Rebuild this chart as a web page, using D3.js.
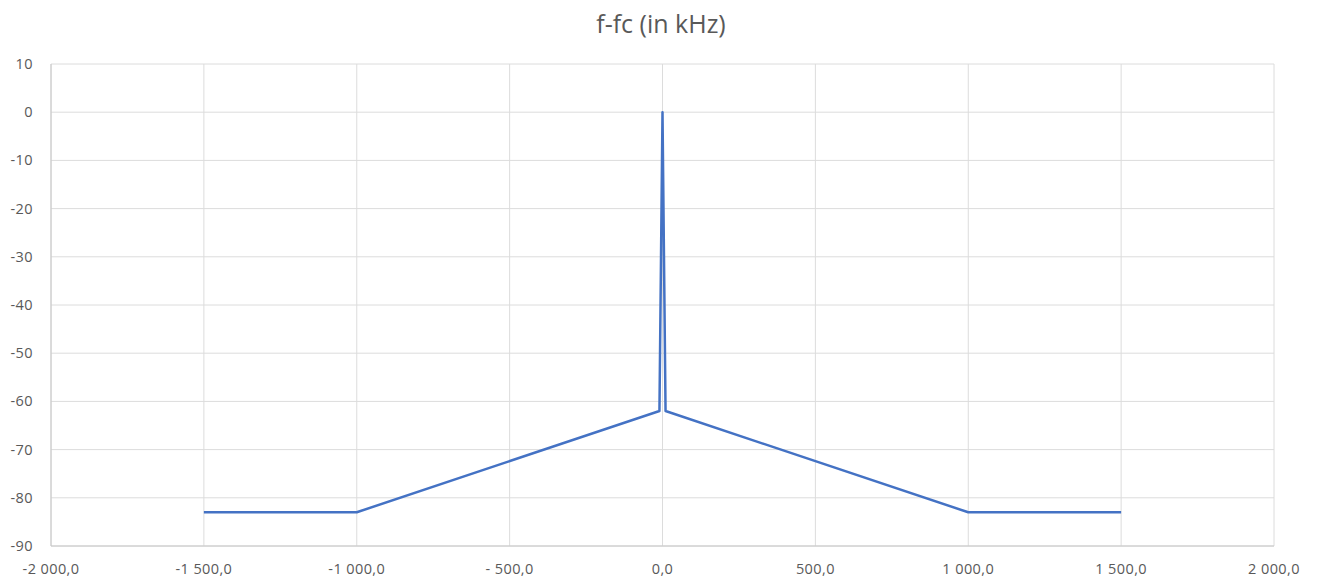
<!DOCTYPE html>
<html><head><meta charset="utf-8">
<script src="https://cdn.jsdelivr.net/npm/d3@7"></script>
<style>body{margin:0;background:#fff;}svg{display:block;}</style>
</head><body><svg id="c" width="1318" height="583"></svg>
<script>
const freq = [-1500, -1000, -10, 0, 10, 1000, 1500];
const level = [-83, -83, -62, 0, -62, -83, -83];
const xTicks = [-2000, -1500, -1000, -500, 0, 500, 1000, 1500, 2000];
const xTickLabels = ["-2 000,0", "-1 500,0", "-1 000,0", "- 500,0", "0,0", "500,0", "1 000,0", "1 500,0", "2 000,0"];
const yTicks = [10, 0, -10, -20, -30, -40, -50, -60, -70, -80, -90];
const title = "f-fc (in kHz)";

const svg = d3.select("#c");
const x = d3.scaleLinear().domain([-2000, 2000]).range([51, 1274]);
const y = d3.scaleLinear().domain([-90, 10]).range([546, 64]);
const font = "'Open Sans', 'Noto Sans', sans-serif";

// gridlines
svg.append("g").selectAll("line").data(yTicks).join("line")
  .attr("x1", x(-2000)).attr("x2", x(2000))
  .attr("y1", d => y(d)).attr("y2", d => y(d))
  .attr("stroke", "#dcdcdc").attr("stroke-width", 1);
svg.append("g").selectAll("line").data(xTicks).join("line")
  .attr("x1", d => x(d)).attr("x2", d => x(d))
  .attr("y1", y(10)).attr("y2", y(-90))
  .attr("stroke", "#dcdcdc").attr("stroke-width", 1);
// axis lines
svg.append("line").attr("x1", x(-2000)).attr("x2", x(-2000)).attr("y1", y(10)).attr("y2", y(-90)).attr("stroke", "#c8c8c8");
svg.append("line").attr("x1", x(-2000)).attr("x2", x(2000)).attr("y1", y(-90)).attr("y2", y(-90)).attr("stroke", "#c8c8c8");

// y labels
svg.append("g").selectAll("text").data(yTicks).join("text")
  .attr("x", 33).attr("y", d => y(d)).attr("dy", "0.35em")
  .attr("text-anchor", "end").attr("font-family", font).attr("font-size", 14.5)
  .attr("letter-spacing", 0.4)
  .attr("fill", "#595959").text(d => d);
// x labels
svg.append("g").selectAll("text").data(xTicks).join("text")
  .attr("x", d => x(d)).attr("y", 574)
  .attr("text-anchor", "middle").attr("font-family", font).attr("font-size", 14.5)
  .attr("letter-spacing", 0.4)
  .attr("fill", "#595959").text((d, i) => xTickLabels[i]);

// title
svg.append("text").attr("x", 661).attr("y", 33).attr("text-anchor", "middle")
  .attr("font-family", font).attr("font-size", 25).attr("fill", "#595959").text(title);

// line
const pts = freq.map((f, i) => [f, level[i]]);
svg.append("path").datum(pts)
  .attr("d", d3.line().x(d => x(d[0])).y(d => y(d[1])))
  .attr("fill", "none").attr("stroke", "#4472C4").attr("stroke-width", 2.5)
  .attr("stroke-linejoin", "round");
</script></body></html>
